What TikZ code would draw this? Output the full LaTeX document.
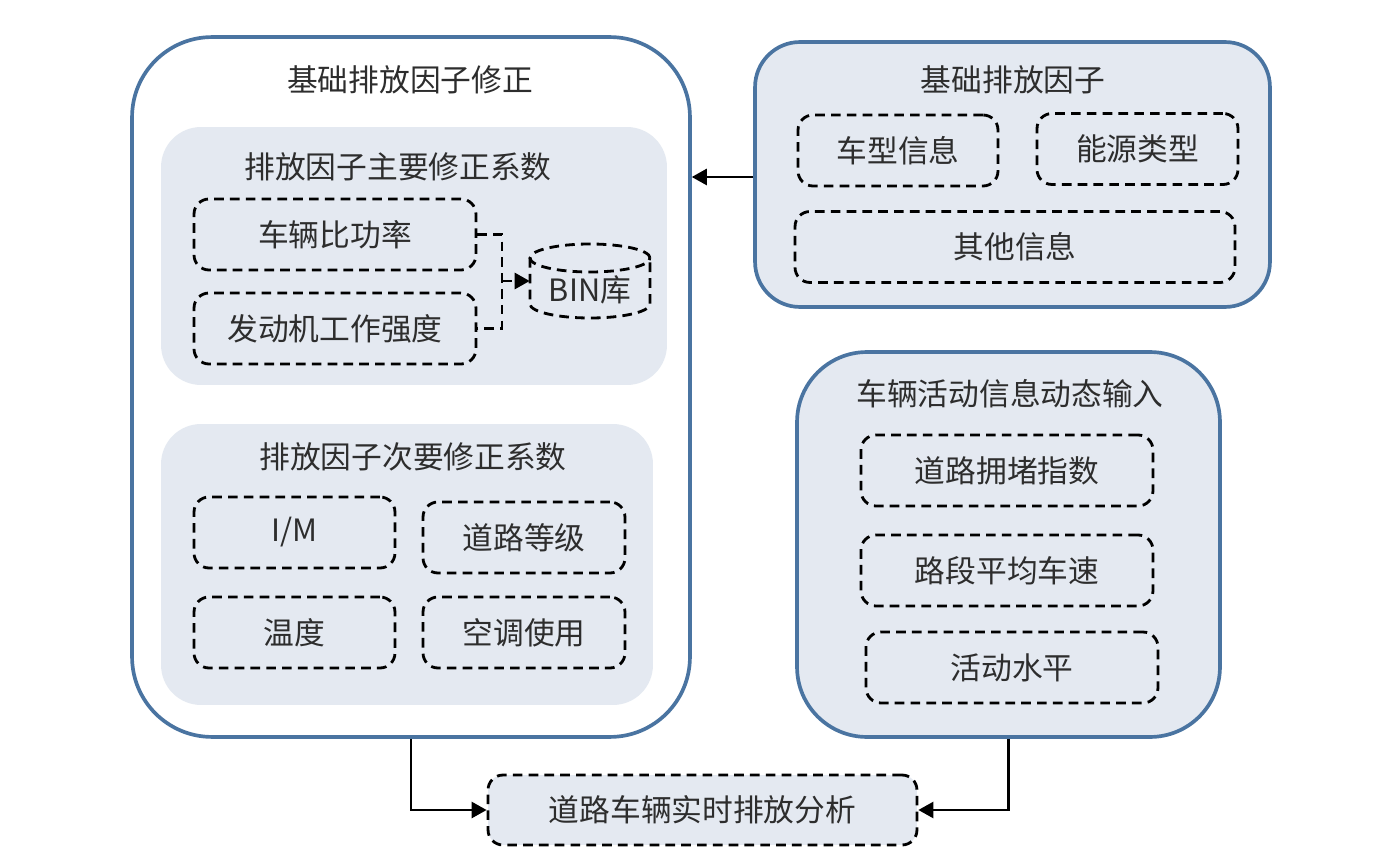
\documentclass[tikz,border=0pt]{standalone}
\usepackage{fontspec}
\setmainfont{Noto Sans CJK SC}
\usetikzlibrary{positioning, arrows.meta}
\definecolor{frameBlue}{RGB}{74, 116, 161}
\definecolor{panelFill}{RGB}{228, 233, 241}
\definecolor{labelGray}{RGB}{45, 45, 45}
\tikzset{
    outer_frame/.style={
        draw=frameBlue,
        line width=2.1pt,
        inner sep=0pt
    },
    inner_panel/.style={
        fill=panelFill,
        draw=none,
        rounded corners=0.8cm,
        inner sep=0pt
    },
    title_text/.style={
        text=labelGray,
        font=\fontsize{17.5}{20}\selectfont
    },
    item_box/.style={
        draw=black,
        line width=1.6pt,
        dash pattern=on 5.5pt off 3.5pt,
        rounded corners=0.3cm,
        minimum height=1.42cm,
        inner sep=0pt,
        text=labelGray,
        font=\fontsize{17.5}{20}\selectfont
    },
    dash_link/.style={
        draw=black,
        line width=1.6pt,
        dash pattern=on 5.5pt off 3.5pt
    },
    flow_arrow/.style={
        draw=black,
        line width=1.5pt,
        -{Triangle[length=0.3cm, width=0.32cm]}
    }
}

\begin{document}
\begin{tikzpicture}[x=0.02cm, y=-0.02cm]
    \useasboundingbox (0,0) rectangle (1400,858);

    % outer frames
    \node[outer_frame, fill=white, rounded corners=1.6cm,
        minimum width=11.16cm, minimum height=14cm] (corr) at (411,387) {};
    \node[outer_frame, fill=panelFill, rounded corners=0.9cm,
        minimum width=10.3cm, minimum height=5.3cm] (base) at (1012.5,174.5) {};
    \node[outer_frame, fill=panelFill, rounded corners=1.4cm,
        minimum width=8.46cm, minimum height=7.7cm] (act) at (1008.5,544.5) {};

    \node[title_text] (corr_title) at (410,80) {基础排放因子修正};
    \node[title_text] (base_title) at (1013,80) {基础排放因子};
    \node[title_text] (act_title) at (1010,394) {车辆活动信息动态输入};

    % correction panels
    \node[inner_panel, minimum width=10.12cm, minimum height=5.16cm] (main_panel) at (414,256) {};
    \node[inner_panel, minimum width=9.84cm, minimum height=5.62cm] (minor_panel) at (407,564.5) {};
    \node[title_text] (main_title) at (398,167) {排放因子主要修正系数};
    \node[title_text] (minor_title) at (413,457) {排放因子次要修正系数};

    \node[item_box, minimum width=5.64cm] (vsp) at (335,234.5) {车辆比功率};
    \node[item_box, minimum width=5.64cm] (eng) at (335,328.5) {发动机工作强度};
    \node[title_text, minimum width=2.4cm, minimum height=1.48cm, inner sep=0pt] (bin) at (590,290) {BIN库};
    \draw[dash_link] (530,258) -- (530,304) arc[start angle=180, end angle=360, x radius=1.2cm, y radius=0.28cm]
        -- (650,258);
    \draw[dash_link] (590,258) ellipse[x radius=1.2cm, y radius=0.28cm];
    \coordinate (bin_join) at (502,281);
    \draw[dash_link] (vsp.east) -| (bin_join) |- (eng.east);
    \draw[dash_link, -{Triangle[length=0.3cm, width=0.32cm]}] (bin_join) -- (bin_join -| bin.west);

    \node[item_box, minimum width=4.02cm] (im) at (294.5,532.5) {I/M};
    \node[item_box, minimum width=4.04cm] (grade) at (524,537.5) {道路等级};
    \node[item_box, minimum width=4.02cm] (temp) at (294.5,632.5) {温度};
    \node[item_box, minimum width=4.04cm] (ac) at (524,632.5) {空调使用};

    % base emission factor
    \node[item_box, minimum width=4.0cm] (vtype) at (898,150.5) {车型信息};
    \node[item_box, minimum width=4.02cm] (energy) at (1137.5,149) {能源类型};
    \node[item_box, minimum width=8.8cm] (other) at (1015,247) {其他信息};

    % activity input
    \node[item_box, minimum width=5.84cm] (congest) at (1007,470.5) {道路拥堵指数};
    \node[item_box, minimum width=5.84cm] (speed) at (1007,570.5) {路段平均车速};
    \node[item_box, minimum width=5.84cm] (level) at (1012,667.5) {活动水平};

    % result
    \node[item_box, fill=panelFill, minimum width=8.58cm, minimum height=1.4cm] (result) at (702.5,810) {道路车辆实时排放分析};

    \draw[flow_arrow] (base.west |- 0,177) -- (corr.east |- 0,177);
    \draw[flow_arrow] (corr.south) |- (result.west);
    \draw[flow_arrow] (act.south) |- (result.east);
\end{tikzpicture}
\end{document}
